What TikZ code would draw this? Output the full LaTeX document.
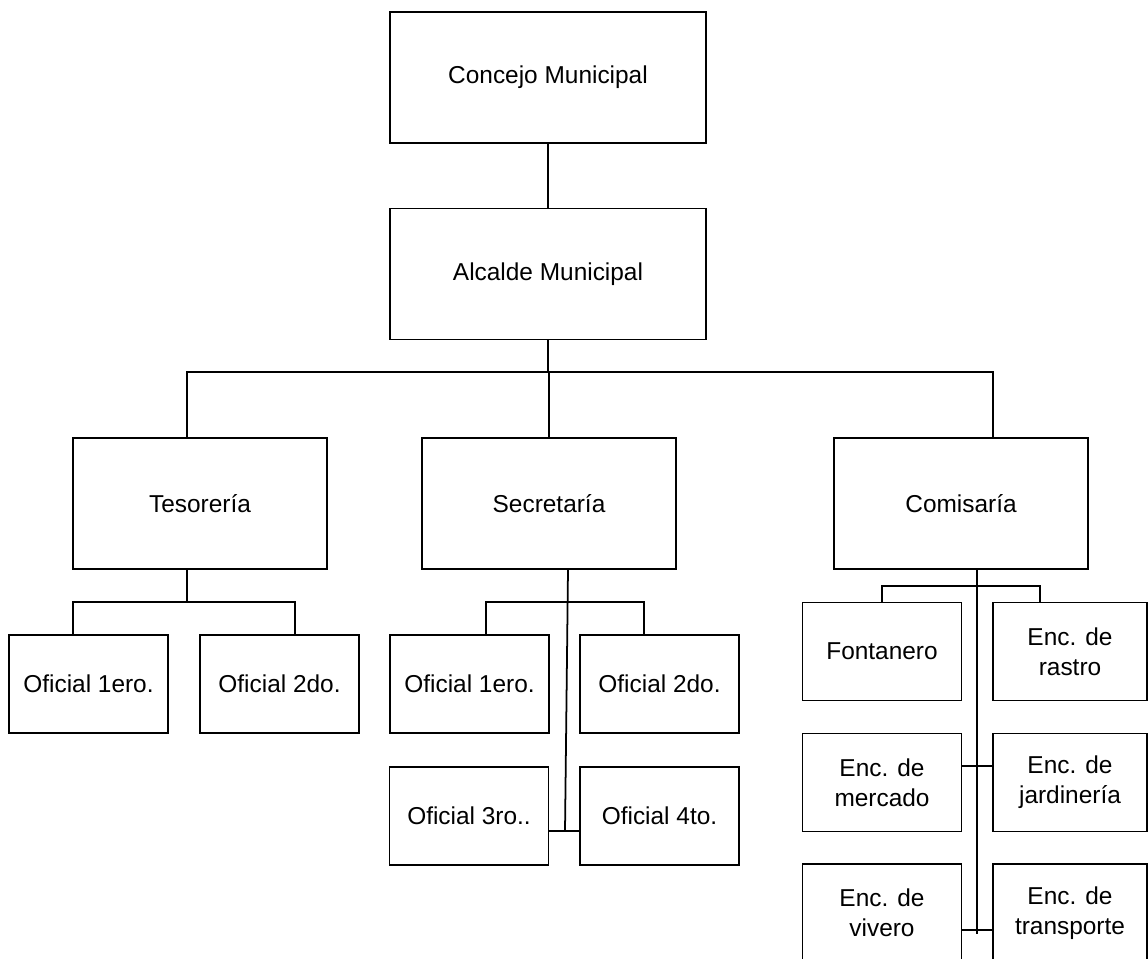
\documentclass[tikz,border=0pt]{standalone}
\usepackage{fontspec}
\setmainfont{Liberation Sans}
\begin{document}
\begin{tikzpicture}[x=0.02cm, y=-0.02cm, line width=1pt,
    cargo/.style={draw, rectangle, align=center, inner sep=0pt, font=\fontsize{13.9}{17}\selectfont},
    mayor/.style={cargo, minimum width=6.32cm, minimum height=2.62cm},
    medio/.style={cargo, minimum width=5.08cm, minimum height=2.62cm},
    menor/.style={cargo, minimum width=3.18cm, minimum height=1.96cm},
    menorder/.style={cargo, minimum width=3.08cm, minimum height=1.96cm}]
            \clip (0,0) rectangle (1148,958);

            \node[mayor] (concejo) at (548,77.5) {Concejo Municipal};
            \node[mayor] (alcalde) at (548,274) {Alcalde Municipal};
            \draw (concejo) -- (alcalde);

            \node[medio] (teso) at (200,503.5) {Tesorería};
            \node[medio] (secre) at (549,503.5) {Secretaría};
            \node[medio] (comis) at (961,503.5) {Comisaría};
            \coordinate (bi) at (187,372);
            \coordinate (bd) at (993,372);
            \draw (alcalde.south) -- (alcalde.south |- bi);
            \draw (bi |- teso.north) -- (bi) -- (bd) -- (bd |- comis.north);
            \draw (secre.north |- bi) -- (secre.north);

            \node[menor] (t1) at (88.5,684) {Oficial 1ero.};
            \node[menor] (t2) at (279.5,684) {Oficial 2do.};
            \coordinate (ti) at (73,602);
            \coordinate (td) at (295,602);
            \draw (ti |- teso.south) ++(114,0) -- ++(0,33);
            \draw (ti |- t1.north) -- (ti) -- (td) -- (td |- t2.north);

            \node[menor] (s1) at (469.5,684) {Oficial 1ero.};
            \node[menor] (s2) at (659.5,684) {Oficial 2do.};
            \node[menor] (s3) at (469,816) {Oficial 3ro..};
            \node[menor] (s4) at (659.5,816) {Oficial 4to.};
            \coordinate (si) at (486,602);
            \coordinate (sd) at (644,602);
            \coordinate (sc) at (565,831);
            \draw (568,569) -- (sc);
            \draw (si |- s1.north) -- (si) -- (sd) -- (sd |- s2.north);
            \draw (s3.east |- sc) -- (s4.west |- sc);

            \node[menor] (fonta) at (882,651.5) {Fontanero};
            \node[menorder] (rastro) at (1070,651.5) {Enc. de\\rastro};
            \node[menor] (merca) at (882,782.5) {Enc. de\\mercado};
            \node[menorder] (jardin) at (1070,782.5) {Enc. de\\jardinería};
            \node[menor] (vivero) at (882,913) {Enc. de\\vivero};
            \node[menorder] (transp) at (1070,913) {Enc. de\\transporte};
            \coordinate (ci) at (882,586);
            \coordinate (cd) at (1040,586);
            \coordinate (cc) at (977,934);
            \draw (cc |- comis.south) -- (cc);
            \draw (fonta.north) -- (ci) -- (cd) -- (cd |- rastro.north);
            \draw (merca.east |- 0,766) -- (jardin.west |- 0,766);
            \draw (vivero.east |- 0,930) -- (transp.west |- 0,930);
        \end{tikzpicture}
\end{document}
